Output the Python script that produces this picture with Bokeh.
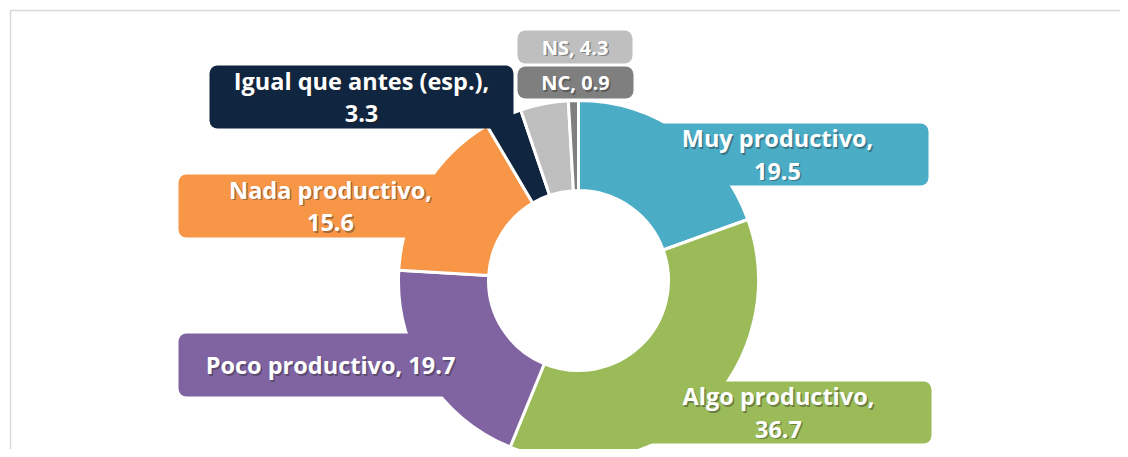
import math
import numpy as np
from bokeh.plotting import figure
from bokeh.models import Range1d, ColumnDataSource
from bokeh.core.properties import value
from bokeh.embed import file_html
from bokeh.resources import INLINE

# ---- data ----
categories = ["Muy productivo", "Algo productivo", "Poco productivo", "Nada productivo",
              "Igual que antes (esp.)", "NS", "NC"]
values = [19.5, 36.7, 19.7, 15.6, 3.3, 4.3, 0.9]
colors = ["#4BACC6", "#9BBB59", "#8064A2", "#F79646", "#10253F", "#BFBFBF", "#7F7F7F"]

# ---- layout (screen pixels) ----
# callout boxes: left, right, top, bottom, lines, font size
boxes = [
    (626, 928, 123, 185, 2, 23.5),
    (625, 931, 381, 443, 2, 23.5),
    (178, 482, 333, 396, 1, 23.5),
    (178, 482, 174, 237, 2, 23.5),
    (209, 513, 65, 128, 2, 23.5),
    (517, 632, 30, 63, 1, 20),
    (517, 633, 66, 98, 1, 20),
]
CX, CY, R_IN, R_OUT = 578, 280, 90, 180
W, H = 1120, 449


def Y(sy):
    return H - sy


p = figure(width=W, height=H, x_range=Range1d(0, W), y_range=Range1d(0, H),
           output_backend="svg", toolbar_location=None, min_border=0,
           x_axis_type=None, y_axis_type=None)
p.grid.visible = False
p.outline_line_color = None
p.background_fill_color = "white"
p.border_fill_color = "white"

# chart area border
p.line([10, 10, W + 5], [Y(H + 5), Y(10), Y(10)], line_color="#D9D9D9", line_width=1.5)

# donut
vals = np.array(values)
cum = np.cumsum(vals)
start = math.pi / 2 - 2 * math.pi * cum / 100.0
end = math.pi / 2 - 2 * math.pi * (cum - vals) / 100.0
src = ColumnDataSource(dict(start=start, end=end, color=colors))
p.annular_wedge(x=CX, y=Y(CY), inner_radius=R_IN, outer_radius=R_OUT,
                start_angle="start", end_angle="end", fill_color="color",
                line_color="white", line_width=3, source=src)

# callouts
p.quad(left=[b[0] for b in boxes], right=[b[1] for b in boxes],
       top=[Y(b[2]) for b in boxes], bottom=[Y(b[3]) for b in boxes],
       fill_color=colors, line_color=None, border_radius=8)

tx, ty, tt, ts = [], [], [], []
LINE = 33
for cat, v, b in zip(categories, values, boxes):
    l, r, t, bt, n, fs = b
    cx = (l + r) / 2
    cy = (t + bt) / 2
    if n == 2:
        tx += [cx, cx]
        ty += [Y(cy - LINE / 2), Y(cy + LINE / 2)]
        tt += [f"{cat},", f"{v}"]
        ts += [f"{fs}px", f"{fs}px"]
    else:
        tx.append(cx)
        ty.append(Y(cy))
        tt.append(f"{cat}, {v}")
        ts.append(f"{fs}px")

tsrc = ColumnDataSource(dict(x=tx, y=ty, sx=[x + 1.5 for x in tx], sy=[y - 1.5 for y in ty],
                             text=tt, size=ts))
FONT = value("Open Sans")
p.text(x="sx", y="sy", text="text", text_font=FONT, source=tsrc,
       text_font_style="bold", text_font_size="size", text_color="#202020",
       text_alpha=0.4, text_align="center", text_baseline="middle")
p.text(x="x", y="y", text="text", text_font=FONT, text_font_style="bold", source=tsrc,
       text_font_size="size", text_color="white", text_align="center",
       text_baseline="middle")

open("out.html", "w").write(file_html(p, INLINE))
